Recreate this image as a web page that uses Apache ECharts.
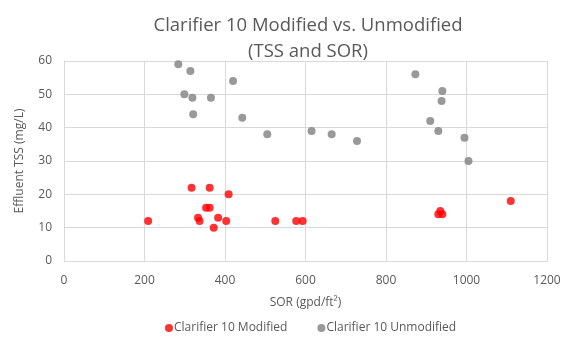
<!DOCTYPE html>
<html>
<head>
<meta charset="utf-8">
<script src="https://cdn.jsdelivr.net/npm/echarts@6/dist/echarts.min.js"></script>
<style>html,body{margin:0;padding:0;background:#fff;}#c{width:567px;height:346px;}</style>
</head>
<body>
<div id="c"></div>
<script>
const modifiedSOR = [209, 317, 362, 409, 353, 362, 333, 337, 383, 372, 403, 525, 577, 593, 930, 935, 940, 1110];
const modifiedTSS = [12, 22, 22, 20, 16, 16, 13, 12, 13, 10, 12, 12, 12, 12, 14, 15, 14, 18];
const unmodifiedSOR = [284, 314, 299, 319, 321, 365, 420, 443, 505, 615, 665, 728, 873, 940, 938, 910, 930, 995, 1005];
const unmodifiedTSS = [59, 57, 50, 49, 44, 49, 54, 43, 38, 39, 38, 36, 56, 51, 48, 42, 39, 37, 30];
const seriesNames = ['Clarifier 10 Modified', 'Clarifier 10 Unmodified'];
const titleLines = ['Clarifier 10 Modified vs. Unmodified', '(TSS and SOR)'];

const zip = (a, b) => a.map((v, i) => [v, b[i]]);
const txt = '#595959';
const font = 'Open Sans';
const chart = echarts.init(document.getElementById('c'), null, {renderer: 'canvas'});
chart.setOption({
  backgroundColor: '#fff',
  animation: false,
  textStyle: {fontFamily: font},
  title: {
    text: titleLines.join('\n'),
    left: 303, top: 8, textAlign: 'center',
    textStyle: {fontFamily: font, fontSize: 18.5, fontWeight: 'normal', color: txt, lineHeight: 26}
  },
  grid: {left: 64, right: 20, top: 61, bottom: 85},
  xAxis: {
    type: 'value', min: 0, max: 1200, interval: 200,
    name: 'SOR (gpd/ft²)', nameLocation: 'middle', nameGap: 36,
    nameTextStyle: {fontSize: 12, color: txt, fontFamily: font},
    axisLine: {show: true, lineStyle: {color: '#D9D9D9'}},
    axisTick: {show: false},
    axisLabel: {fontSize: 12, color: txt, margin: 14, fontFamily: font, formatter: v => String(v)},
    splitLine: {show: true, lineStyle: {color: '#D9D9D9', width: 1}}
  },
  yAxis: {
    type: 'value', min: 0, max: 60, interval: 10,
    name: 'Effluent TSS (mg/L)', nameLocation: 'middle', nameGap: 38,
    nameTextStyle: {fontSize: 12, color: txt, fontFamily: font},
    axisLine: {show: true, lineStyle: {color: '#D9D9D9'}},
    axisTick: {show: false},
    axisLabel: {fontSize: 12, color: txt, margin: 12, fontFamily: font},
    splitLine: {show: true, lineStyle: {color: '#D9D9D9', width: 1}}
  },
  legend: {
    top: 317, left: 160,
    itemWidth: 8, itemHeight: 8, itemGap: 30,
    icon: 'circle',
    textStyle: {fontSize: 12, color: txt, fontFamily: font, padding: [0, 0, 0, -4]},
    data: seriesNames
  },
  series: [
    {name: seriesNames[0], type: 'scatter', symbolSize: 8, itemStyle: {color: '#FF0000'}, data: zip(modifiedSOR, modifiedTSS), z: 3},
    {name: seriesNames[1], type: 'scatter', symbolSize: 8, itemStyle: {color: '#7F7F7F'}, data: zip(unmodifiedSOR, unmodifiedTSS), z: 2}
  ]
});
</script>
</body>
</html>
